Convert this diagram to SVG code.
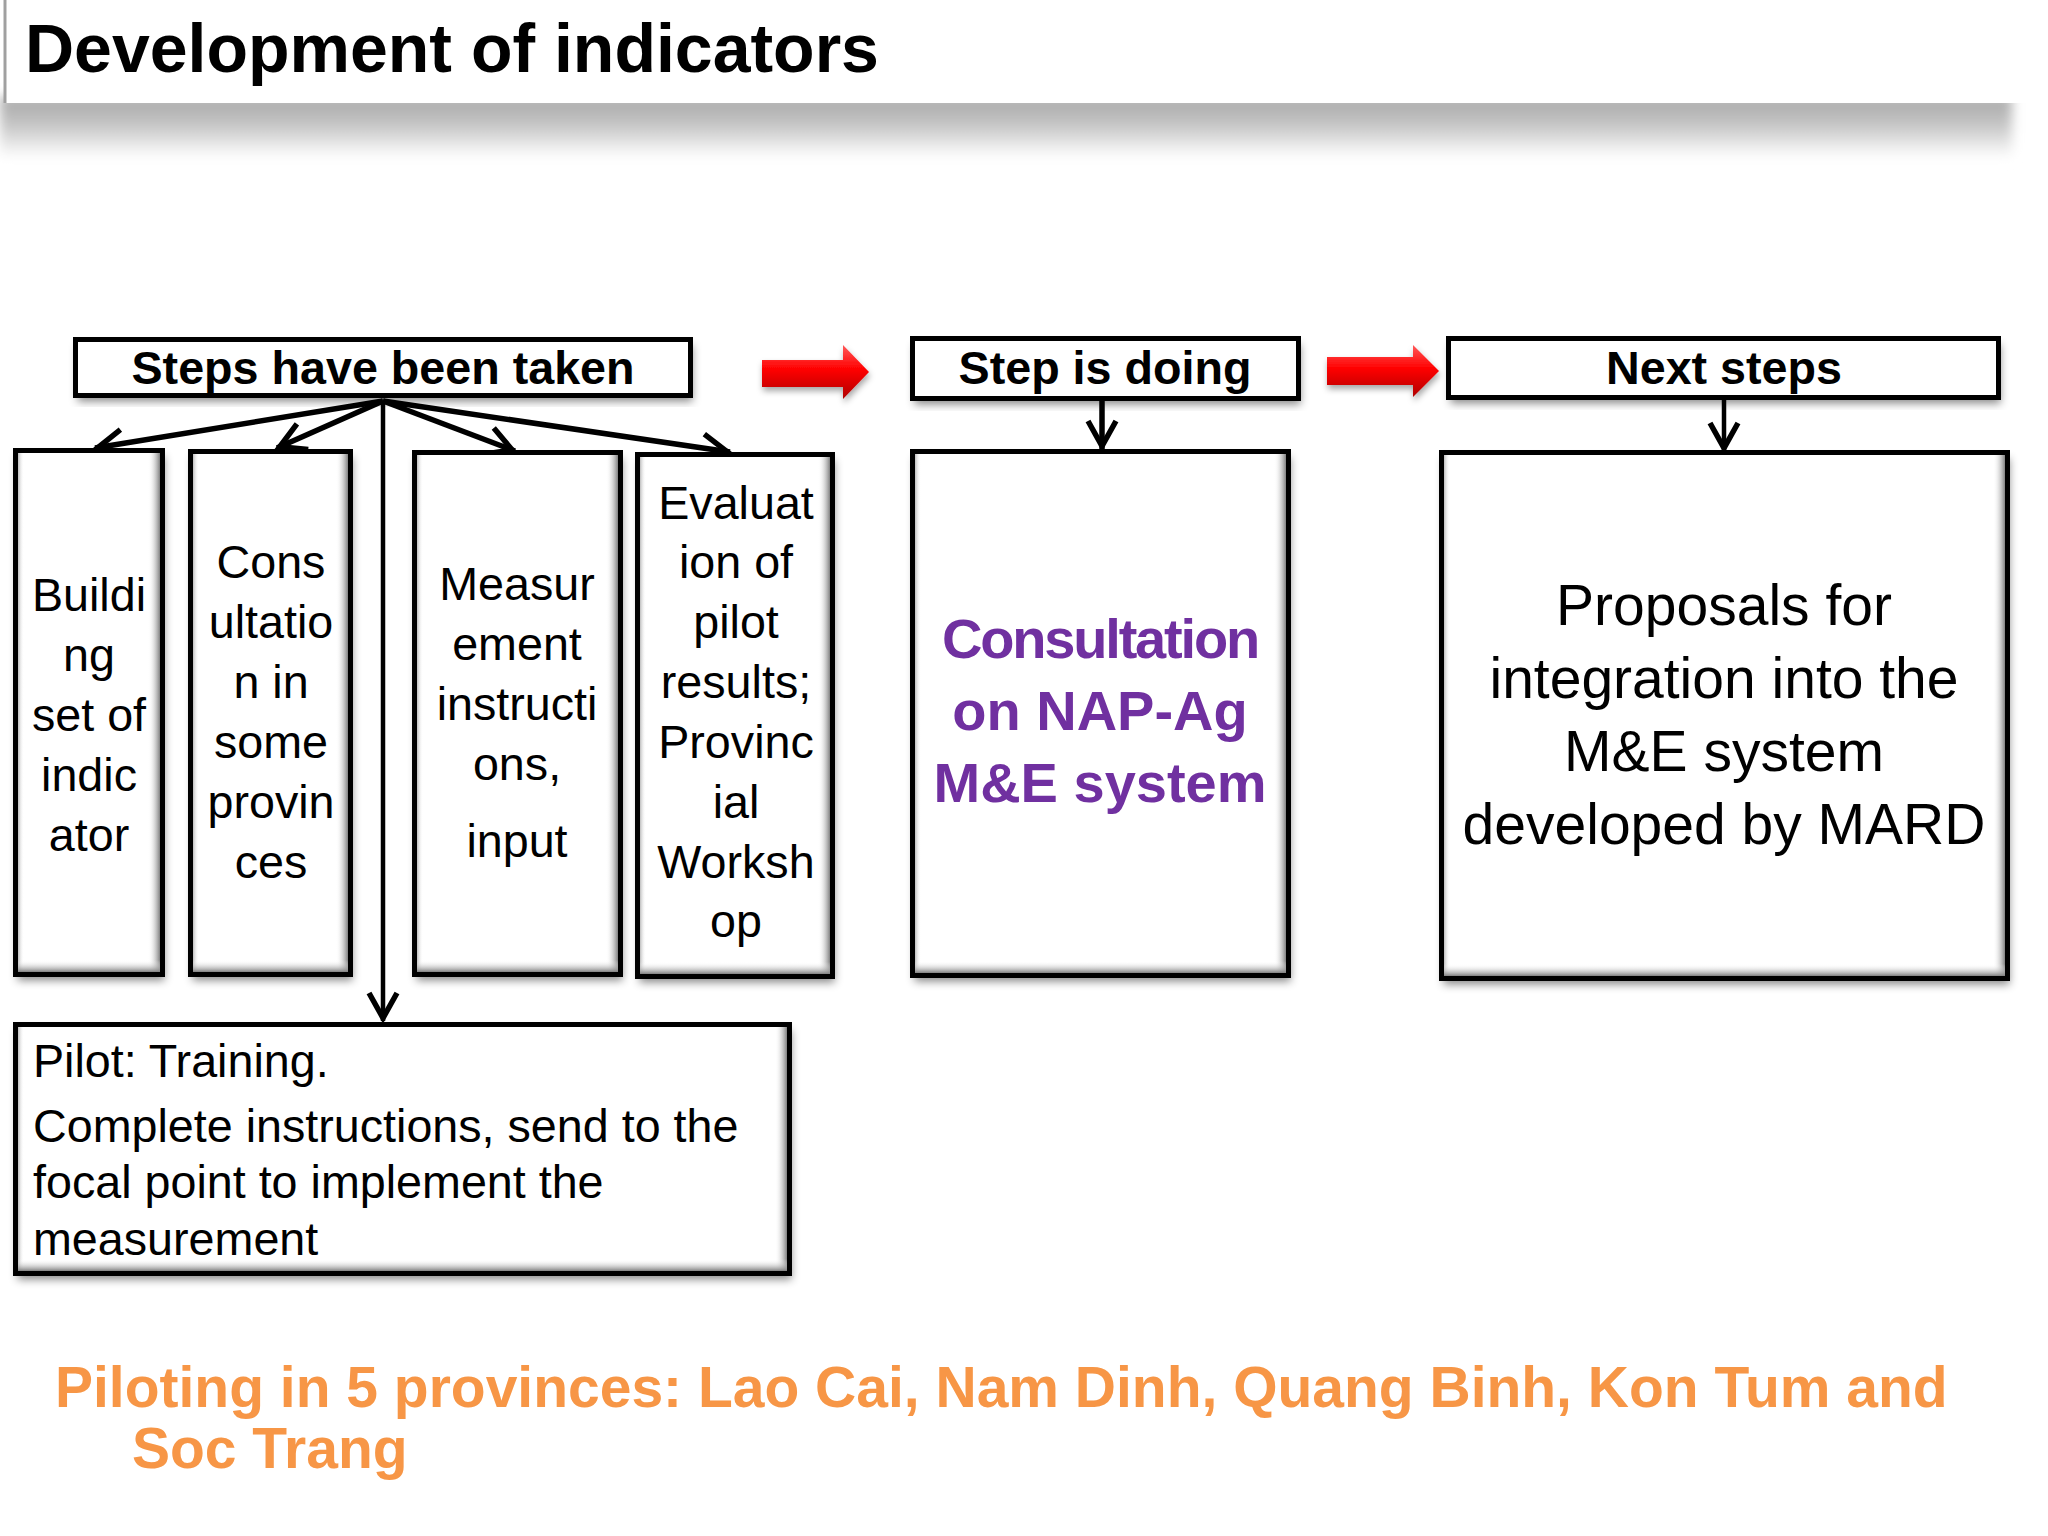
<svg xmlns="http://www.w3.org/2000/svg" width="2048" height="1536" viewBox="0 0 2048 1536">
<defs>
<style>
.box{fill:#fff;filter:url(#ds)}
.frame{fill:none;stroke:#000;stroke-width:5}
.bevR{fill:url(#gR)}
.bevB{fill:url(#gB)}
.bevL{fill:url(#gL)}
.t{font-family:"Liberation Sans",Arial,sans-serif;font-size:46.67px;fill:#000;text-anchor:middle}
.b{font-weight:bold}
.l{text-anchor:start}
.conn{fill:none;stroke:#000;stroke-width:5.5;marker-end:url(#chev)}
.thin{stroke-width:4.5}
.red{fill:url(#gRed);filter:url(#ds2)}
</style>
<filter id="ds" x="-10%" y="-10%" width="125%" height="130%"><feDropShadow dx="2" dy="6" stdDeviation="4" flood-color="#000" flood-opacity="0.45"/></filter>
<filter id="ds2" x="-10%" y="-20%" width="130%" height="150%"><feDropShadow dx="1" dy="4" stdDeviation="3" flood-color="#000" flood-opacity="0.35"/></filter>
<filter id="blur" x="-5%" y="-50%" width="110%" height="200%"><feGaussianBlur stdDeviation="6"/></filter>
<linearGradient id="gShadow" x1="0" y1="0" x2="0" y2="1"><stop offset="0" stop-color="#a6a6a6"/><stop offset="0.45" stop-color="#c4c4c4"/><stop offset="1" stop-color="#ffffff"/></linearGradient>
<linearGradient id="gR" x1="0" y1="0" x2="1" y2="0"><stop offset="0" stop-color="#fff" stop-opacity="0"/><stop offset="1" stop-color="#808080"/></linearGradient>
<linearGradient id="gB" x1="0" y1="0" x2="0" y2="1"><stop offset="0" stop-color="#fff" stop-opacity="0"/><stop offset="1" stop-color="#808080"/></linearGradient>
<linearGradient id="gL" x1="1" y1="0" x2="0" y2="0"><stop offset="0" stop-color="#fff" stop-opacity="0"/><stop offset="1" stop-color="#bdbdbd"/></linearGradient>
<linearGradient id="gRed" x1="0" y1="0" x2="0" y2="1"><stop offset="0" stop-color="#ff5a5a"/><stop offset="0.45" stop-color="#ff0000"/><stop offset="1" stop-color="#b00000"/></linearGradient>
<marker id="chev" markerUnits="userSpaceOnUse" orient="auto" markerWidth="1" markerHeight="1" overflow="visible"><path d="M-28,-14 L-3,0 L-28,14" fill="none" stroke="#000" stroke-width="5.5"/></marker>
</defs>
<rect width="2048" height="1536" fill="#fff"/>

<g id="title">
<rect x="0" y="96" width="2012" height="62" fill="url(#gShadow)" filter="url(#blur)"/>
<rect x="5" y="0" width="2043" height="103" fill="#fff"/>
<line x1="5" y1="0" x2="5" y2="103" stroke="#a0a0a0" stroke-width="3"/>
<text class="t b l" x="25" y="72" style="font-size:68px">Development of indicators</text>
</g>

<g id="connectors">
<path class="conn" d="M383,401 L95,448"/>
<path class="conn" d="M383,401 L277,448"/>
<path class="conn" d="M383,401 L515,451"/>
<path class="conn" d="M383,401 L730,452"/>
<path class="conn thin" d="M383,403 L383,1021"/>
<path class="conn" d="M1102,401 L1102,449"/>
<path class="conn thin" d="M1724,400 L1724,451"/>
<polygon class="red" points="762,360 843,360 843,345 869,372 843,399 843,387 762,387"/>
<polygon class="red" points="1327,357 1413,357 1413,345 1439,371 1413,397 1413,385 1327,385"/>
</g>

<g id="n-steps-taken">
<rect class="box" x="75.5" y="339.5" width="615" height="56"/>
<rect class="frame" x="75.5" y="339.5" width="615" height="56"/>
<text class="t b" x="383" y="384">Steps have been taken</text>
</g>

<g id="n-step-doing">
<rect class="box" x="912.5" y="338.5" width="386" height="60"/>
<rect class="frame" x="912.5" y="338.5" width="386" height="60"/>
<text class="t b" x="1105" y="384">Step is doing</text>
</g>

<g id="n-next-steps">
<rect class="box" x="1448.5" y="338.5" width="550" height="59"/>
<rect class="frame" x="1448.5" y="338.5" width="550" height="59"/>
<text class="t b" x="1724" y="384">Next steps</text>
</g>

<g id="n-building">
<rect class="box" x="15.5" y="450.5" width="147" height="524"/>
<rect class="bevL" x="18" y="453" width="6" height="519"/>
<rect class="bevR" x="148" y="453" width="12" height="519"/>
<rect class="bevB" x="18" y="960" width="142" height="12"/>
<rect class="frame" x="15.5" y="450.5" width="147" height="524"/>
<text class="t" x="89"><tspan x="89" y="611">Buildi</tspan><tspan x="89" y="671">ng</tspan><tspan x="89" y="731">set of</tspan><tspan x="89" y="791">indic</tspan><tspan x="89" y="851">ator</tspan></text>
</g>

<g id="n-consultation-provinces">
<rect class="box" x="190.5" y="451.5" width="160" height="523"/>
<rect class="bevL" x="193" y="454" width="6" height="518"/>
<rect class="bevR" x="336" y="454" width="12" height="518"/>
<rect class="bevB" x="193" y="960" width="155" height="12"/>
<rect class="frame" x="190.5" y="451.5" width="160" height="523"/>
<text class="t" x="271"><tspan x="271" y="578">Cons</tspan><tspan x="271" y="638">ultatio</tspan><tspan x="271" y="698">n in</tspan><tspan x="271" y="758">some</tspan><tspan x="271" y="818">provin</tspan><tspan x="271" y="878">ces</tspan></text>
</g>

<g id="n-measurement">
<rect class="box" x="414.5" y="452.5" width="206" height="522"/>
<rect class="bevL" x="417" y="455" width="6" height="517"/>
<rect class="bevR" x="606" y="455" width="12" height="517"/>
<rect class="bevB" x="417" y="960" width="201" height="12"/>
<rect class="frame" x="414.5" y="452.5" width="206" height="522"/>
<text class="t" x="517"><tspan x="517" y="600">Measur</tspan><tspan x="517" y="660">ement</tspan><tspan x="517" y="720">instructi</tspan><tspan x="517" y="780">ons,</tspan><tspan x="517" y="857">input</tspan></text>
</g>

<g id="n-evaluation">
<rect class="box" x="637.5" y="454.5" width="195" height="522"/>
<rect class="bevL" x="640" y="457" width="6" height="517"/>
<rect class="bevR" x="818" y="457" width="12" height="517"/>
<rect class="bevB" x="640" y="962" width="190" height="12"/>
<rect class="frame" x="637.5" y="454.5" width="195" height="522"/>
<text class="t" x="736"><tspan x="736" y="519">Evaluat</tspan><tspan x="736" y="578">ion of</tspan><tspan x="736" y="638">pilot</tspan><tspan x="736" y="698">results;</tspan><tspan x="736" y="758">Provinc</tspan><tspan x="736" y="818">ial</tspan><tspan x="736" y="878">Worksh</tspan><tspan x="736" y="937">op</tspan></text>
</g>

<g id="n-consultation-napag">
<rect class="box" x="912.5" y="451.5" width="376" height="524"/>
<rect class="bevL" x="915" y="454" width="6" height="519"/>
<rect class="bevR" x="1274" y="454" width="12" height="519"/>
<rect class="bevB" x="915" y="961" width="371" height="12"/>
<rect class="frame" x="912.5" y="451.5" width="376" height="524"/>
<text class="t b" x="1100" style="font-size:56px;fill:#7030a0"><tspan x="1100" y="658" letter-spacing="-2.2">Consultation</tspan><tspan x="1100" y="730">on NAP-Ag</tspan><tspan x="1100" y="802">M&amp;E system</tspan></text>
</g>

<g id="n-proposals">
<rect class="box" x="1441.5" y="452.5" width="566" height="526"/>
<rect class="bevL" x="1444" y="455" width="6" height="521"/>
<rect class="bevR" x="1993" y="455" width="12" height="521"/>
<rect class="bevB" x="1444" y="964" width="561" height="12"/>
<rect class="frame" x="1441.5" y="452.5" width="566" height="526"/>
<text class="t" x="1724" style="font-size:57px"><tspan x="1724" y="625">Proposals for</tspan><tspan x="1724" y="698">integration into the</tspan><tspan x="1724" y="771">M&amp;E system</tspan><tspan x="1724" y="844">developed by MARD</tspan></text>
</g>

<g id="n-pilot">
<rect class="box" x="15.5" y="1024.5" width="774" height="249"/>
<rect class="bevL" x="18" y="1027" width="6" height="244"/>
<rect class="bevR" x="775" y="1027" width="12" height="244"/>
<rect class="bevB" x="18" y="1259" width="769" height="12"/>
<rect class="frame" x="15.5" y="1024.5" width="774" height="249"/>
<text class="t l" x="33"><tspan x="33" y="1077">Pilot: Training.</tspan><tspan x="33" y="1142">Complete instructions, send to the</tspan><tspan x="33" y="1198">focal point to implement the</tspan><tspan x="33" y="1255">measurement</tspan></text>
</g>

<g id="footer">
<text class="t b l" x="55" style="font-size:57px;fill:#f79646"><tspan x="55" y="1407">Piloting in 5 provinces: Lao Cai, Nam Dinh, Quang Binh, Kon Tum and</tspan><tspan x="132" y="1468">Soc Trang</tspan></text>
</g>
</svg>
